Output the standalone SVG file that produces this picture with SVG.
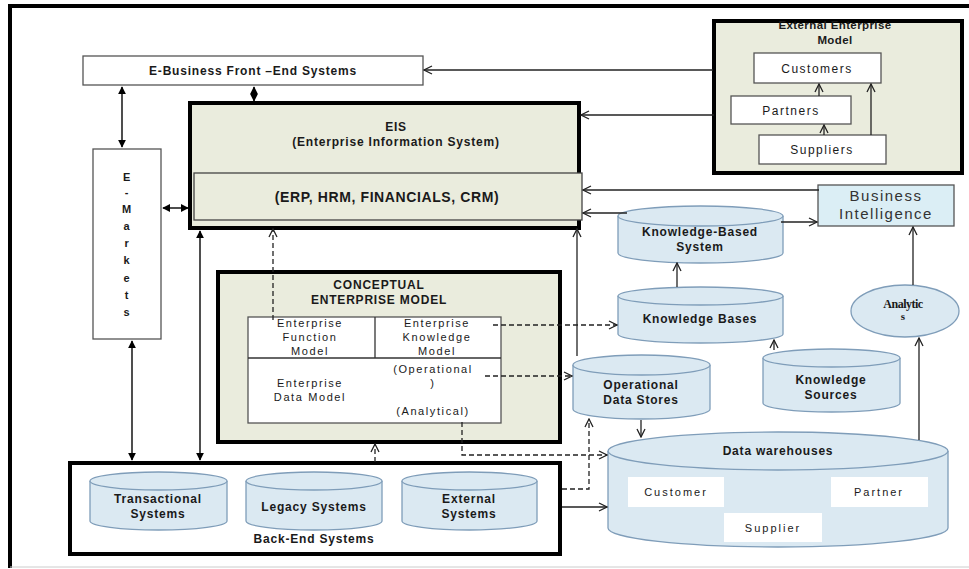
<svg xmlns="http://www.w3.org/2000/svg" width="969" height="569" viewBox="0 0 969 569">
<style>
text{font-family:"Liberation Sans",Arial,sans-serif;fill:#1a1a1a;text-anchor:middle}
.b{font-weight:bold;font-size:12px;letter-spacing:0.8px}
.r{font-size:11px;letter-spacing:1.6px}
.box{fill:#fff;stroke:#555;stroke-width:1.3}
.thick{fill:#eaecdd;stroke:#000;stroke-width:4}
.cylb{fill:#dbe9f2;stroke:#7f9db9;stroke-width:1.3}
.ln{fill:none;stroke:#222;stroke-width:1.3}
.dash{fill:none;stroke:#222;stroke-width:1.3;stroke-dasharray:5,3}
.o{marker-end:url(#open)}
.f{marker-start:url(#fill);marker-end:url(#fill);stroke-width:1.6}
</style>
<defs>
<marker id="open" viewBox="0 0 10 10" refX="9" refY="5" markerWidth="10" markerHeight="10" markerUnits="userSpaceOnUse" orient="auto-start-reverse">
<path d="M1,1 L9,5 L1,9" fill="none" stroke="#222" stroke-width="1.3"/>
</marker>
<marker id="fill" viewBox="0 0 10 10" refX="9" refY="5" markerWidth="8" markerHeight="8" markerUnits="userSpaceOnUse" orient="auto-start-reverse">
<path d="M0,0 L10,5 L0,10 Z" fill="#000"/>
</marker>
</defs>
<rect width="969" height="569" fill="#fff"/>
<path d="M10,568 V6 H969" fill="none" stroke="#000" stroke-width="4"/>
<line x1="10" y1="567" x2="969" y2="567" stroke="#ccc" stroke-width="1"/>

<g id="ebusiness">
<rect class="box" x="83" y="56" width="340" height="29"/>
<text class="b" x="253" y="75">E-Business Front –End Systems</text>
</g>

<g id="emarkets">
<rect class="box" x="93" y="149" width="68" height="190"/>
<g class="b" style="font-size:11px">
<text x="127" y="181">E</text><text x="127" y="196">-</text><text x="127" y="213">M</text><text x="127" y="230">a</text><text x="127" y="247">r</text><text x="127" y="264">k</text><text x="127" y="282">e</text><text x="127" y="299">t</text><text x="127" y="316">s</text>
</g>
</g>

<g id="eis">
<rect class="thick" x="190" y="103" width="389" height="125"/>
<rect x="194" y="173" width="388" height="47" fill="#eaecdd" stroke="#444" stroke-width="1.3"/>
<text class="b" x="396" y="131">EIS</text>
<text class="b" x="396" y="146">(Enterprise Information System)</text>
<text class="b" x="387" y="202" style="font-size:14px;letter-spacing:0.6px">(ERP, HRM, FINANCIALS, CRM)</text>
</g>

<g id="external-enterprise-model">
<rect class="thick" x="714" y="21" width="248" height="152"/>
<text class="b" x="835" y="29" style="font-size:11.5px;letter-spacing:0.4px">External Enterprise</text>
<text class="b" x="835" y="44" style="font-size:11.5px;letter-spacing:0.4px">Model</text>
<g id="customers"><rect class="box" x="754" y="53" width="127" height="30"/><text class="r" x="817" y="73" style="font-size:12px;letter-spacing:1.5px">Customers</text></g>
<g id="partners"><rect class="box" x="731" y="96" width="120" height="28"/><text class="r" x="791" y="115" style="font-size:12px;letter-spacing:1.5px">Partners</text></g>
<g id="suppliers"><rect class="box" x="759" y="135" width="127" height="29"/><text class="r" x="822" y="154" style="font-size:12px;letter-spacing:1.5px">Suppliers</text></g>
</g>

<g id="business-intelligence">
<rect x="818" y="185" width="136" height="41" fill="#dbeef5" stroke="#555" stroke-width="1.3"/>
<text x="886" y="201" style="font-size:15px;letter-spacing:1.5px;fill:#333">Business</text>
<text x="886" y="219" style="font-size:15px;letter-spacing:1.5px;fill:#333">Intelligence</text>
</g>

<g id="knowledge-based-system">
<path class="cylb" d="M618,216 V253 A82.5,10 0 0 0 783,253 V216"/>
<ellipse class="cylb" cx="700.5" cy="216" rx="82.5" ry="10"/>
<text class="b" x="700" y="236">Knowledge-Based</text>
<text class="b" x="700" y="251">System</text>
</g>

<g id="knowledge-bases">
<path class="cylb" d="M618,296 V334 A82.5,9 0 0 0 783,334 V296"/>
<ellipse class="cylb" cx="700.5" cy="296" rx="82.5" ry="9"/>
<text class="b" x="700" y="323">Knowledge Bases</text>
</g>

<g id="analytics">
<ellipse cx="905" cy="311" rx="54" ry="26" fill="#dbe9f2" stroke="#7f9db9" stroke-width="1.3"/>
<text x="903" y="308" style="font-family:'Liberation Serif',serif;font-weight:bold;font-size:12px;letter-spacing:-0.5px">Analytic</text>
<text x="903" y="320" style="font-family:'Liberation Serif',serif;font-weight:bold;font-size:11px">s</text>
</g>

<g id="operational-data-stores">
<path class="cylb" d="M573,365 V409 A68.5,10 0 0 0 710,409 V365"/>
<ellipse class="cylb" cx="641.5" cy="365" rx="68.5" ry="10"/>
<text class="b" x="641" y="389">Operational</text>
<text class="b" x="641" y="404">Data Stores</text>
</g>

<g id="knowledge-sources">
<path class="cylb" d="M763,358 V403 A68.5,9 0 0 0 900,403 V358"/>
<ellipse class="cylb" cx="831.5" cy="358" rx="68.5" ry="9"/>
<text class="b" x="831" y="384">Knowledge</text>
<text class="b" x="831" y="399">Sources</text>
</g>

<g id="data-warehouses">
<path class="cylb" d="M608,451 V528 A170,19 0 0 0 948,528 V451"/>
<ellipse class="cylb" cx="778" cy="451" rx="170" ry="19"/>
<text class="b" x="778" y="455">Data warehouses</text>
<rect x="628" y="477" width="96" height="30" fill="#fff"/>
<text class="r" x="676" y="496" style="letter-spacing:2px">Customer</text>
<rect x="831" y="477" width="97" height="30" fill="#fff"/>
<text class="r" x="879" y="496" style="letter-spacing:2px">Partner</text>
<rect x="724" y="513" width="98" height="29" fill="#fff"/>
<text class="r" x="773" y="532" style="letter-spacing:2px">Supplier</text>
</g>

<g id="conceptual-enterprise-model">
<rect class="thick" x="218" y="272" width="342" height="170"/>
<text class="b" x="379" y="289">CONCEPTUAL</text>
<text class="b" x="379" y="304">ENTERPRISE  MODEL</text>
<rect class="box" x="248" y="317" width="253" height="106" stroke="#333"/>
<line x1="375" y1="317" x2="375" y2="358" stroke="#333" stroke-width="1.3"/>
<line x1="248" y1="358" x2="501" y2="358" stroke="#333" stroke-width="1.3"/>
<text class="r" x="310" y="327">Enterprise</text>
<text class="r" x="310" y="341">Function</text>
<text class="r" x="310" y="355">Model</text>
<text class="r" x="437" y="327">Enterprise</text>
<text class="r" x="437" y="341">Knowledge</text>
<text class="r" x="437" y="355">Model</text>
<text class="r" x="310" y="387">Enterprise</text>
<text class="r" x="310" y="401">Data Model</text>
<text class="r" x="433" y="373">(Operational</text>
<text class="r" x="433" y="387">)</text>
<text class="r" x="433" y="415">(Analytical)</text>
</g>

<g id="back-end-systems">
<rect x="70" y="463" width="490" height="91" fill="#fff" stroke="#000" stroke-width="4"/>
<g id="transactional-systems">
<path class="cylb" d="M90,481 V521 A68.5,9 0 0 0 227,521 V481"/>
<ellipse class="cylb" cx="158.5" cy="481" rx="68.5" ry="9"/>
<text class="b" x="158" y="503">Transactional</text>
<text class="b" x="158" y="518">Systems</text>
</g>
<g id="legacy-systems">
<path class="cylb" d="M246,481 V521 A68,9 0 0 0 382,521 V481"/>
<ellipse class="cylb" cx="314" cy="481" rx="68" ry="9"/>
<text class="b" x="314" y="511">Legacy Systems</text>
</g>
<g id="external-systems">
<path class="cylb" d="M402,481 V521 A67.5,9 0 0 0 537,521 V481"/>
<ellipse class="cylb" cx="469.5" cy="481" rx="67.5" ry="9"/>
<text class="b" x="469" y="503">External</text>
<text class="b" x="469" y="518">Systems</text>
</g>
<text class="b" x="314" y="543">Back-End  Systems</text>
</g>

<g id="connectors">
<line class="ln o" x1="713" y1="70" x2="424" y2="70"/>
<line class="ln o" x1="714" y1="115" x2="581" y2="115"/>
<line class="ln o" x1="819" y1="190" x2="583" y2="190"/>
<line class="ln o" x1="627" y1="213" x2="583" y2="213"/>
<line class="ln o" x1="781" y1="222" x2="817" y2="222"/>
<line class="ln o" x1="677" y1="287" x2="677" y2="263"/>
<line class="ln o" x1="774" y1="350" x2="774" y2="340"/>
<line class="ln o" x1="913" y1="285" x2="913" y2="227"/>
<line class="ln o" x1="919" y1="440" x2="919" y2="338"/>
<line class="ln o" x1="641" y1="420" x2="641" y2="437"/>
<line class="ln o" x1="577" y1="356" x2="577" y2="229"/>
<line class="ln o" x1="562" y1="507" x2="607" y2="507"/>
<polyline class="dash o" points="562,489 589,489 589,419"/>
<polyline class="dash o" points="462,422 462,455 607,455"/>
<line class="dash o" x1="485" y1="376" x2="572" y2="376"/>
<line class="dash o" x1="493" y1="325" x2="617" y2="325"/>
<line class="dash o" x1="375" y1="462" x2="375" y2="444"/>
<line class="dash o" x1="273" y1="320" x2="273" y2="229"/>
<line class="ln f" x1="122" y1="87" x2="122" y2="147"/>
<line class="ln f" x1="254" y1="87" x2="254" y2="101"/>
<line class="ln f" x1="163" y1="208" x2="188" y2="208"/>
<line class="ln f" x1="132" y1="341" x2="132" y2="460"/>
<line class="ln f" x1="200" y1="231" x2="200" y2="460"/>
<line class="ln o" x1="819" y1="96" x2="819" y2="84"/>
<line class="ln o" x1="824" y1="135" x2="824" y2="125"/>
<line class="ln o" x1="871" y1="135" x2="871" y2="84"/>
</g>
</svg>
